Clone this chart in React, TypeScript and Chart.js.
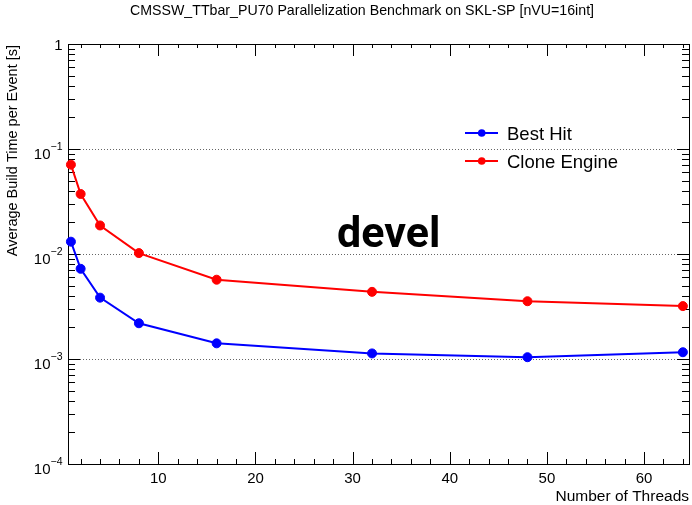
import React, { useEffect, useRef } from "react";
import { Chart, registerables } from "chart.js";

Chart.register(...registerables);

const TITLE = "CMSSW_TTbar_PU70 Parallelization Benchmark on SKL-SP [nVU=16int]";
const X_TITLE = "Number of Threads";
const Y_TITLE = "Average Build Time per Event [s]";
const WATERMARK = "devel";

const threads = [1, 2, 4, 8, 16, 32, 48, 64];
const bestHit = [0.0131, 0.00723, 0.00384, 0.00219, 0.00141, 0.00113, 0.00104, 0.00116];
const cloneEngine = [0.0709, 0.0373, 0.0187, 0.0102, 0.00569, 0.00436, 0.00355, 0.00319];
const seriesNames = ["Best Hit", "Clone Engine"];
const seriesColors = ["#0000ff", "#ff0000"];

const xTickValues = [10, 20, 30, 40, 50, 60];
const yExponents = [0, -1, -2, -3, -4];
const X_MIN = 0.7;
const X_MAX = 64.63;
const Y_MIN = 1e-4;
const Y_MAX = 1;

const FONT = "'Liberation Sans', Arial, Helvetica, sans-serif";

const rootStyle = {
  id: "rootStyle",
  beforeDatasetsDraw(chart: any) {
    const { ctx, chartArea: a, scales } = chart;
    const xs = scales.x;
    const ys = scales.y;
    ctx.save();
    ctx.strokeStyle = "#000";
    ctx.lineWidth = 1;
    ctx.strokeRect(a.left + 0.5, a.top + 0.5, a.right - a.left, a.bottom - a.top);
    ctx.beginPath();
    // x ticks
    for (let v = 2; v <= 64; v += 2) {
      const major = v % 10 === 0;
      const len = major ? 12 : 5;
      const lenTop = major ? 12 : 4;
      const px = Math.round(xs.getPixelForValue(v)) + 0.5;
      ctx.moveTo(px, a.bottom);
      ctx.lineTo(px, a.bottom - len);
      ctx.moveTo(px, a.top);
      ctx.lineTo(px, a.top + lenTop);
    }
    // y ticks
    for (let e = -4; e <= 0; e++) {
      const base = Math.pow(10, e);
      const py0 = Math.round(ys.getPixelForValue(base)) + 0.5;
      ctx.moveTo(a.left, py0);
      ctx.lineTo(a.left + 12, py0);
      ctx.moveTo(a.right, py0);
      ctx.lineTo(a.right - 12, py0);
      if (e === 0) continue;
      for (let k = 2; k <= 9; k++) {
        const py = Math.round(ys.getPixelForValue(k * base)) + 0.5;
        ctx.moveTo(a.left, py);
        ctx.lineTo(a.left + 7, py);
        ctx.moveTo(a.right, py);
        ctx.lineTo(a.right - 7, py);
      }
    }
    ctx.stroke();
    ctx.restore();
  },
  afterDraw(chart: any) {
    const { ctx, chartArea: a, scales } = chart;
    const xs = scales.x;
    const ys = scales.y;
    ctx.save();
    ctx.fillStyle = "#000";
    // x tick labels
    ctx.font = `15px ${FONT}`;
    ctx.textAlign = "center";
    ctx.textBaseline = "alphabetic";
    for (const v of xTickValues) {
      ctx.fillText(String(v), xs.getPixelForValue(v), 483);
    }
    // y tick labels
    const labelRight = 62.5;
    for (const e of yExponents) {
      const py = ys.getPixelForValue(Math.pow(10, e));
      ctx.textAlign = "right";
      if (e === 0) {
        ctx.font = `15px ${FONT}`;
        ctx.fillText("1", labelRight, py + 6);
      } else {
        const sup = "\u2212" + String(-e);
        ctx.font = `10.5px ${FONT}`;
        const sw = ctx.measureText(sup).width;
        ctx.fillText(sup, labelRight, py + 1);
        ctx.font = `15px ${FONT}`;
        ctx.fillText("10", labelRight - sw, py + 10);
      }
    }
    // x title
    ctx.font = `15.5px ${FONT}`;
    ctx.textAlign = "right";
    ctx.fillText(X_TITLE, a.right, 501);
    // y title
    ctx.save();
    ctx.translate(17, a.top + 1);
    ctx.rotate(-Math.PI / 2);
    ctx.font = `14.5px ${FONT}`;
    ctx.textAlign = "right";
    ctx.fillText(Y_TITLE, 0, 0);
    ctx.restore();
    // title
    ctx.font = `14.2px ${FONT}`;
    ctx.textAlign = "center";
    ctx.fillText(TITLE, 362, 15);
    // watermark
    ctx.font = `bold 43px Roboto, 'Open Sans', sans-serif`;
    ctx.textAlign = "left";
    ctx.fillText(WATERMARK, 337, 247);
    // legend
    const legendY = [133, 161];
    for (let i = 0; i < seriesNames.length; i++) {
      const ly = legendY[i];
      ctx.strokeStyle = seriesColors[i];
      ctx.fillStyle = seriesColors[i];
      ctx.lineWidth = 2;
      ctx.beginPath();
      ctx.moveTo(465, ly);
      ctx.lineTo(498, ly);
      ctx.stroke();
      ctx.beginPath();
      ctx.arc(481.7, ly, 3.8, 0, Math.PI * 2);
      ctx.fill();
      ctx.fillStyle = "#000";
      ctx.font = `18.5px ${FONT}`;
      ctx.textAlign = "left";
      ctx.fillText(seriesNames[i], 507, ly + 6.5);
    }
    ctx.restore();
  },
};

export default function App() {
  const canvasRef = useRef<HTMLCanvasElement | null>(null);

  useEffect(() => {
    const canvas = canvasRef.current;
    if (!canvas) return;
    const series = [bestHit, cloneEngine];
    const chart = new Chart(canvas, {
      type: "line",
      data: {
        datasets: series.map((vals, si) => ({
          label: seriesNames[si],
          data: threads.map((t, i) => ({ x: t, y: vals[i] })),
          borderColor: seriesColors[si],
          backgroundColor: seriesColors[si],
          pointBackgroundColor: seriesColors[si],
          pointBorderColor: seriesColors[si],
          pointBorderWidth: 1,
          pointRadius: 4.5,
          borderWidth: 2,
          tension: 0,
          fill: false,
          clip: false as any,
        })),
      },
      options: {
        responsive: false,
        animation: false,
        devicePixelRatio: 1,
        layout: { autoPadding: false, padding: { top: 44, right: 3, left: 0, bottom: 0 } },
        plugins: {
          legend: { display: false },
          tooltip: { enabled: false },
          title: { display: false },
        },
        scales: {
          x: {
            type: "linear",
            min: X_MIN,
            max: X_MAX,
            afterBuildTicks: (scale: any) => {
              scale.ticks = xTickValues.map((v) => ({ value: v }));
            },
            afterFit: (scale: any) => {
              scale.height = 41;
            },
            ticks: { display: false },
            grid: { display: false, drawTicks: false },
            border: { display: false },
          },
          y: {
            type: "logarithmic",
            min: Y_MIN,
            max: Y_MAX,
            afterBuildTicks: (scale: any) => {
              scale.ticks = yExponents.map((e) => ({ value: Math.pow(10, e) }));
            },
            afterFit: (scale: any) => {
              scale.width = 68;
            },
            ticks: { display: false },
            grid: { display: true, drawTicks: false, color: "#666", lineWidth: 1 },
            border: { display: false, dash: [1, 2] },
          },
        },
      },
      plugins: [rootStyle],
    } as any);
    return () => chart.destroy();
  }, []);

  return (
    <div style={{ position: "absolute", left: 0, top: 0, width: 692, height: 505, background: "#fff" }}>
      <canvas ref={canvasRef} width={692} height={505} style={{ display: "block" }} />
    </div>
  );
}
